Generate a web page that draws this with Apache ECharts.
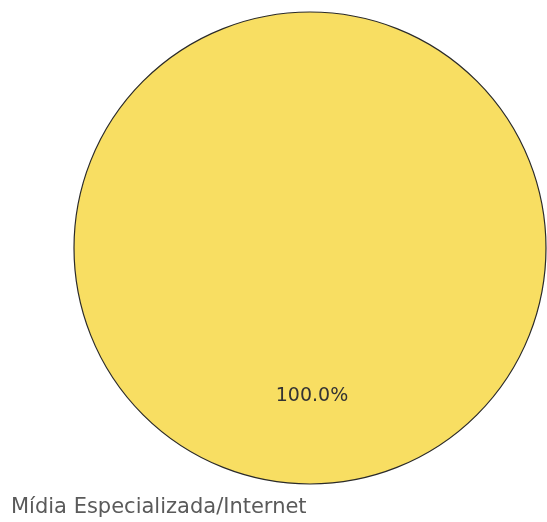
<!DOCTYPE html>
<html><head><meta charset="utf-8">
<script src="https://cdn.jsdelivr.net/npm/echarts@6/dist/echarts.min.js"></script>
<style>html,body{margin:0;padding:0;background:#fff}#c{width:547px;height:522px}</style>
</head><body><div id="c"></div>
<script>
const categories = ["Mídia Especializada/Internet"];
const values = [100];
const colors = ["#F8DE62"];

const chart = echarts.init(document.getElementById('c'));
chart.setOption({
  animation: false,
  legend: {
    data: categories,
    left: 0, top: 492,
    icon: 'rect', itemWidth: 0, itemHeight: 0,
    textStyle: { fontFamily: "'DejaVu Sans'", fontSize: 21, color: '#5a5a5a' }
  },
  series: [{
    type: 'pie',
    center: [310, 248],
    radius: 236,
    startAngle: 90,
    data: categories.map((c, i) => ({ name: c, value: values[i], itemStyle: { color: colors[i] } })),
    itemStyle: { borderColor: '#2a2a2a', borderWidth: 1.2 },
    label: {
      position: 'inside',
      formatter: p => p.percent.toFixed(1) + '%',
      fontFamily: "'DejaVu Sans'", fontSize: 19, color: '#333',
      offset: [2, 27]
    },
    labelLine: { show: false },
    emphasis: { disabled: true }
  }]
});
</script></body></html>
